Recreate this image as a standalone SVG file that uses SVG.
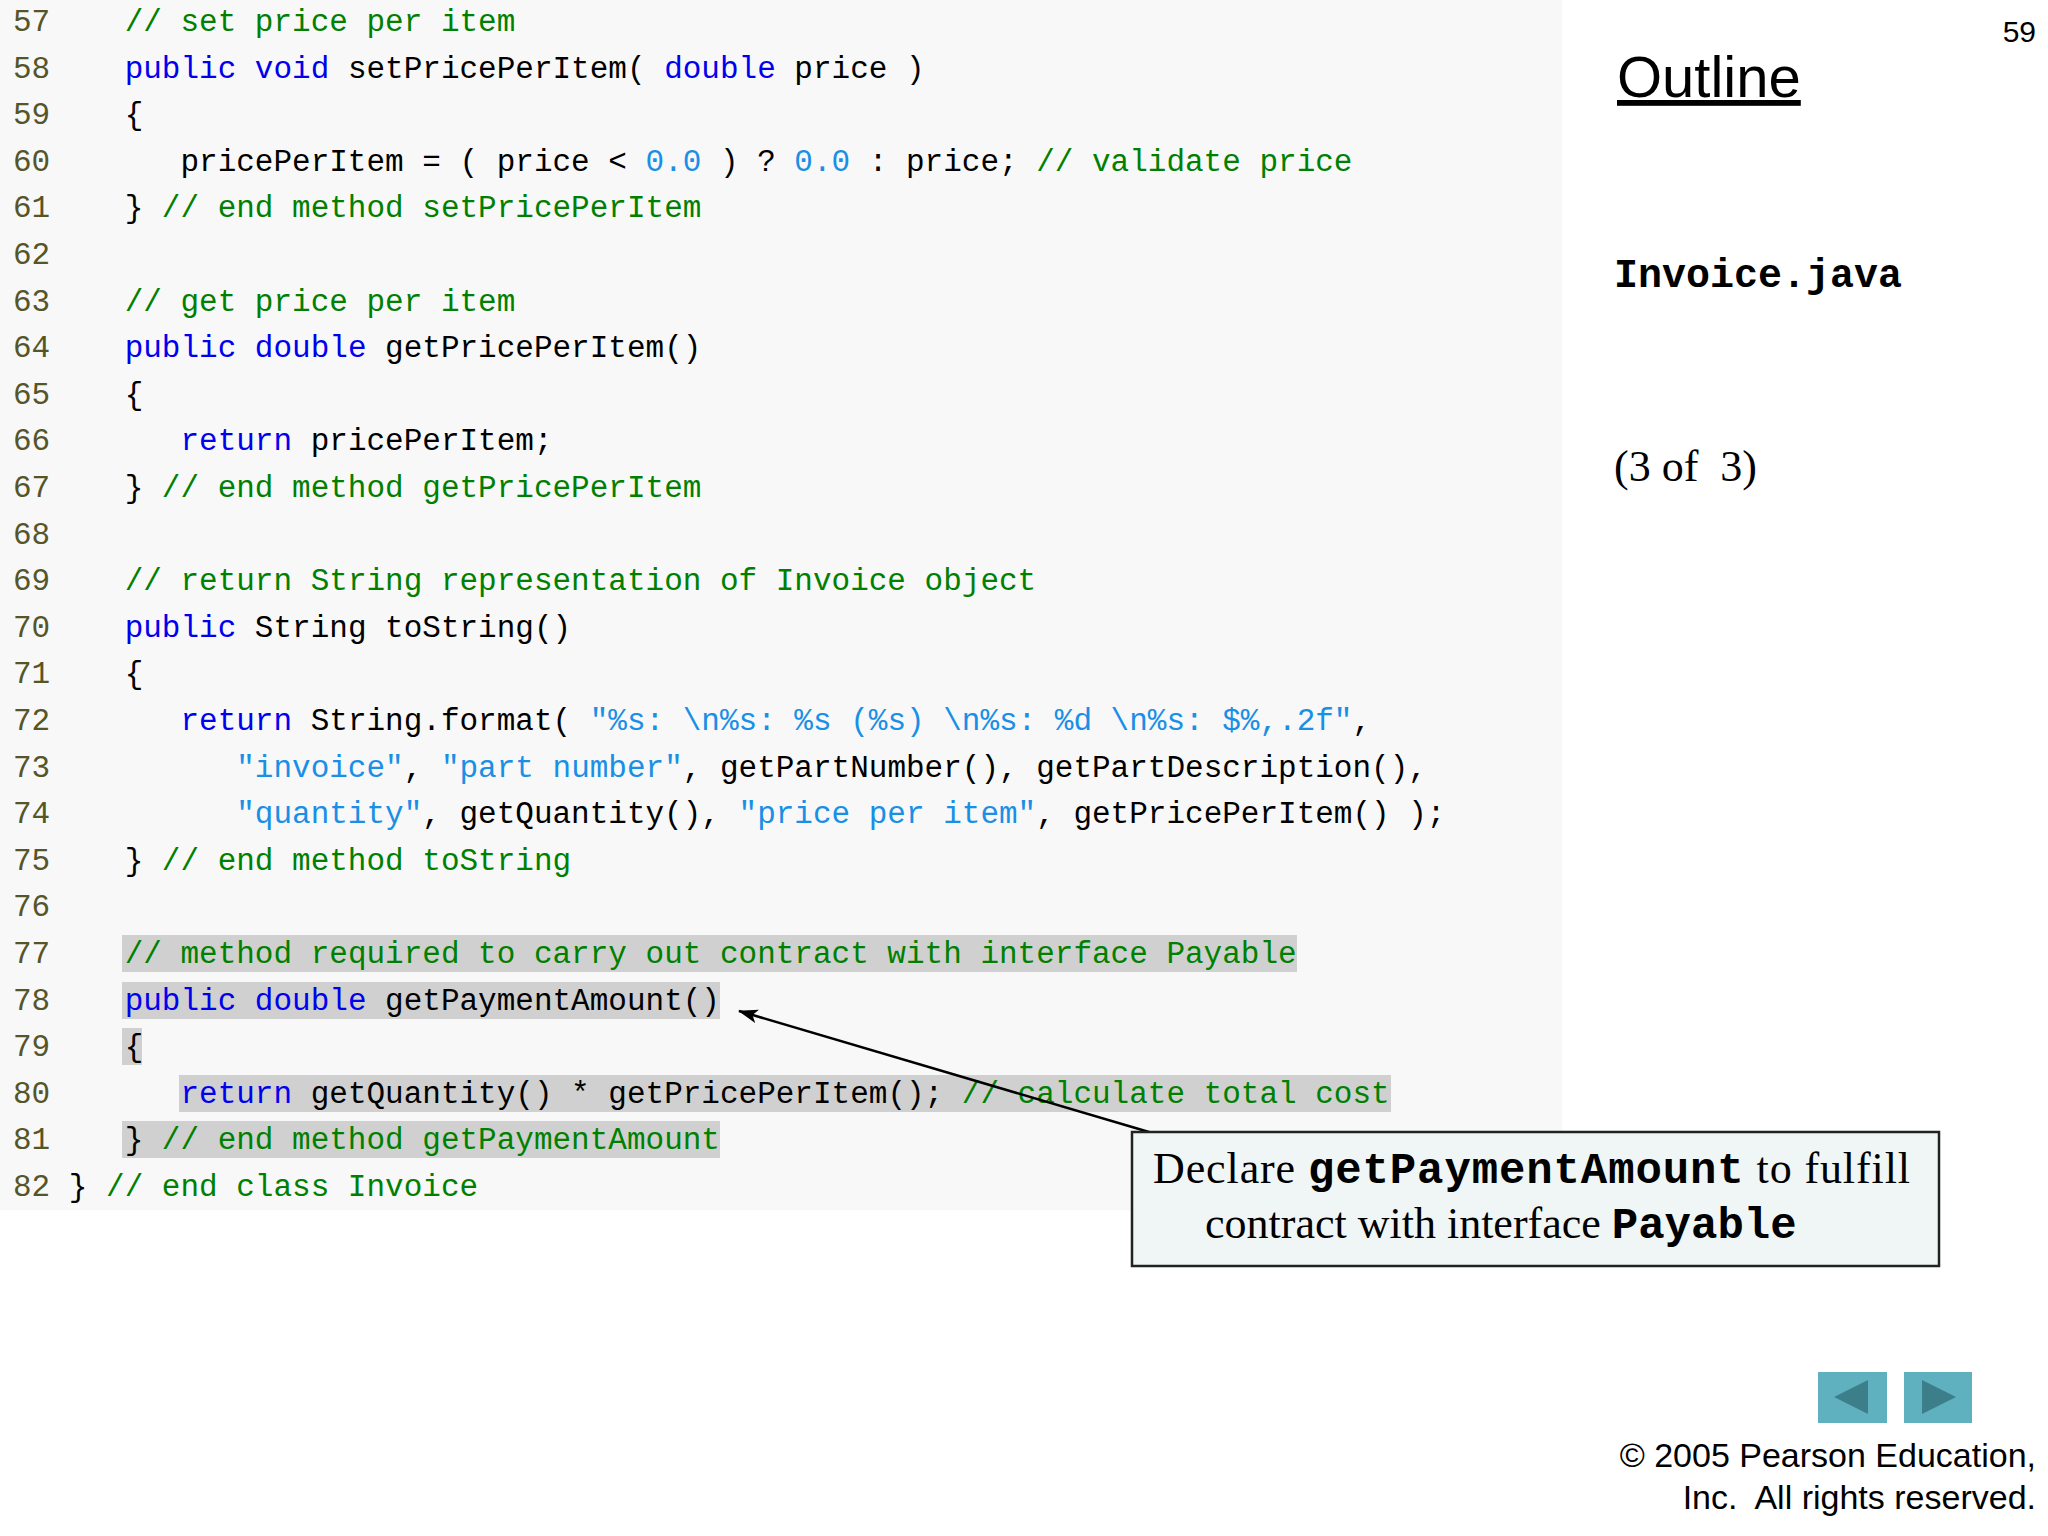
<svg xmlns="http://www.w3.org/2000/svg" width="2048" height="1536" viewBox="0 0 2048 1536">
<style>
.c{font-family:"Liberation Mono","DejaVu Sans Mono",monospace;font-size:31px;fill:#000;white-space:pre}
.n{fill:#55552a}.k{fill:#0000ee}.g{fill:#008000}.s{fill:#1a8fe6}
.hl{fill:#d0d0d0}
.sans{font-family:"Liberation Sans",Arial,sans-serif}
.ser{font-family:"Liberation Serif","Times New Roman",serif}
</style>
<defs><marker id="ah" viewBox="0 0 20 14" refX="19" refY="7" markerWidth="20" markerHeight="14" orient="auto" markerUnits="userSpaceOnUse"><path d="M0,0 L20,7 L0,14 L5,7 z" fill="#000"/></marker></defs>
<rect width="2048" height="1536" fill="#fff"/>
<rect x="0" y="0" width="1562" height="1210" fill="#f8f8f8"/>
<g id="highlights">
<rect class="hl" x="122" y="935" width="1175" height="37"/>
<rect class="hl" x="122" y="982" width="598" height="37"/>
<rect class="hl" x="122" y="1028" width="20" height="37"/>
<rect class="hl" x="179" y="1075" width="1212" height="37"/>
<rect class="hl" x="122" y="1121" width="598" height="37"/>
</g>
<g id="code">
<text class="c" x="13" y="31" xml:space="preserve"><tspan class="n">57</tspan>    <tspan class="g">// set price per item</tspan></text>
<text class="c" x="13" y="78" xml:space="preserve"><tspan class="n">58</tspan>    <tspan class="k">public void</tspan> setPricePerItem( <tspan class="k">double</tspan> price )</text>
<text class="c" x="13" y="124" xml:space="preserve"><tspan class="n">59</tspan>    {</text>
<text class="c" x="13" y="171" xml:space="preserve"><tspan class="n">60</tspan>       pricePerItem = ( price &lt; <tspan class="s">0.0</tspan> ) ? <tspan class="s">0.0</tspan> : price; <tspan class="g">// validate price</tspan></text>
<text class="c" x="13" y="217" xml:space="preserve"><tspan class="n">61</tspan>    } <tspan class="g">// end method setPricePerItem</tspan></text>
<text class="c" x="13" y="264" xml:space="preserve"><tspan class="n">62</tspan></text>
<text class="c" x="13" y="311" xml:space="preserve"><tspan class="n">63</tspan>    <tspan class="g">// get price per item</tspan></text>
<text class="c" x="13" y="357" xml:space="preserve"><tspan class="n">64</tspan>    <tspan class="k">public double</tspan> getPricePerItem()</text>
<text class="c" x="13" y="404" xml:space="preserve"><tspan class="n">65</tspan>    {</text>
<text class="c" x="13" y="450" xml:space="preserve"><tspan class="n">66</tspan>       <tspan class="k">return</tspan> pricePerItem;</text>
<text class="c" x="13" y="497" xml:space="preserve"><tspan class="n">67</tspan>    } <tspan class="g">// end method getPricePerItem</tspan></text>
<text class="c" x="13" y="544" xml:space="preserve"><tspan class="n">68</tspan></text>
<text class="c" x="13" y="590" xml:space="preserve"><tspan class="n">69</tspan>    <tspan class="g">// return String representation of Invoice object</tspan></text>
<text class="c" x="13" y="637" xml:space="preserve"><tspan class="n">70</tspan>    <tspan class="k">public</tspan> String toString()</text>
<text class="c" x="13" y="683" xml:space="preserve"><tspan class="n">71</tspan>    {</text>
<text class="c" x="13" y="730" xml:space="preserve"><tspan class="n">72</tspan>       <tspan class="k">return</tspan> String.format( <tspan class="s">"%s: \n%s: %s (%s) \n%s: %d \n%s: $%,.2f"</tspan>,</text>
<text class="c" x="13" y="777" xml:space="preserve"><tspan class="n">73</tspan>          <tspan class="s">"invoice"</tspan>, <tspan class="s">"part number"</tspan>, getPartNumber(), getPartDescription(),</text>
<text class="c" x="13" y="823" xml:space="preserve"><tspan class="n">74</tspan>          <tspan class="s">"quantity"</tspan>, getQuantity(), <tspan class="s">"price per item"</tspan>, getPricePerItem() );</text>
<text class="c" x="13" y="870" xml:space="preserve"><tspan class="n">75</tspan>    } <tspan class="g">// end method toString</tspan></text>
<text class="c" x="13" y="916" xml:space="preserve"><tspan class="n">76</tspan></text>
<text class="c" x="13" y="963" xml:space="preserve"><tspan class="n">77</tspan>    <tspan class="g">// method required to carry out contract with interface Payable</tspan></text>
<text class="c" x="13" y="1010" xml:space="preserve"><tspan class="n">78</tspan>    <tspan class="k">public double</tspan> getPaymentAmount()</text>
<text class="c" x="13" y="1056" xml:space="preserve"><tspan class="n">79</tspan>    {</text>
<text class="c" x="13" y="1103" xml:space="preserve"><tspan class="n">80</tspan>       <tspan class="k">return</tspan> getQuantity() * getPricePerItem(); <tspan class="g">// calculate total cost</tspan></text>
<text class="c" x="13" y="1149" xml:space="preserve"><tspan class="n">81</tspan>    } <tspan class="g">// end method getPaymentAmount</tspan></text>
<text class="c" x="13" y="1196" xml:space="preserve"><tspan class="n">82</tspan> } <tspan class="g">// end class Invoice</tspan></text>
</g>
<g id="side">
<text class="sans" x="2036" y="42" font-size="30" text-anchor="end">59</text>
<text class="sans" x="1617" y="97" font-size="58" text-decoration="underline">Outline</text>
<text x="1614" y="287" font-family="Liberation Mono, monospace" font-weight="bold" font-size="40">Invoice.java</text>
<text class="ser" x="1614" y="481" font-size="44" xml:space="preserve">(3 of  3)</text>
</g>
<g id="connectors">
<line x1="1149" y1="1132" x2="739" y2="1011" stroke="#000" stroke-width="2.5" marker-end="url(#ah)"/>
</g>
<g id="callout">
<rect x="1132" y="1132" width="807" height="134" fill="#f0f6f6" stroke="#222" stroke-width="2.5"/>
<text class="ser" x="1153" y="1183" font-size="44" textLength="757" lengthAdjust="spacing">Declare <tspan font-family="Liberation Mono, monospace" font-weight="bold">getPaymentAmount</tspan> to fulfill</text>
<text class="ser" x="1205" y="1238" font-size="44">contract with interface <tspan font-family="Liberation Mono, monospace" font-weight="bold">Payable</tspan></text>
</g>
<g id="nav">
<rect x="1818" y="1372" width="69" height="51" fill="#5fb1c0"/>
<path d="M1834,1397 L1868,1380 L1868,1414 z" fill="#3c7f8a"/>
<rect x="1904" y="1372" width="68" height="51" fill="#5fb1c0"/>
<path d="M1956,1397 L1922,1380 L1922,1414 z" fill="#3c7f8a"/>
</g>
<text class="sans" x="2036" y="1467" font-size="34" text-anchor="end">© 2005 Pearson Education,</text>
<text class="sans" x="2036" y="1509" font-size="34" text-anchor="end" xml:space="preserve">Inc.  All rights reserved.</text>
</svg>
